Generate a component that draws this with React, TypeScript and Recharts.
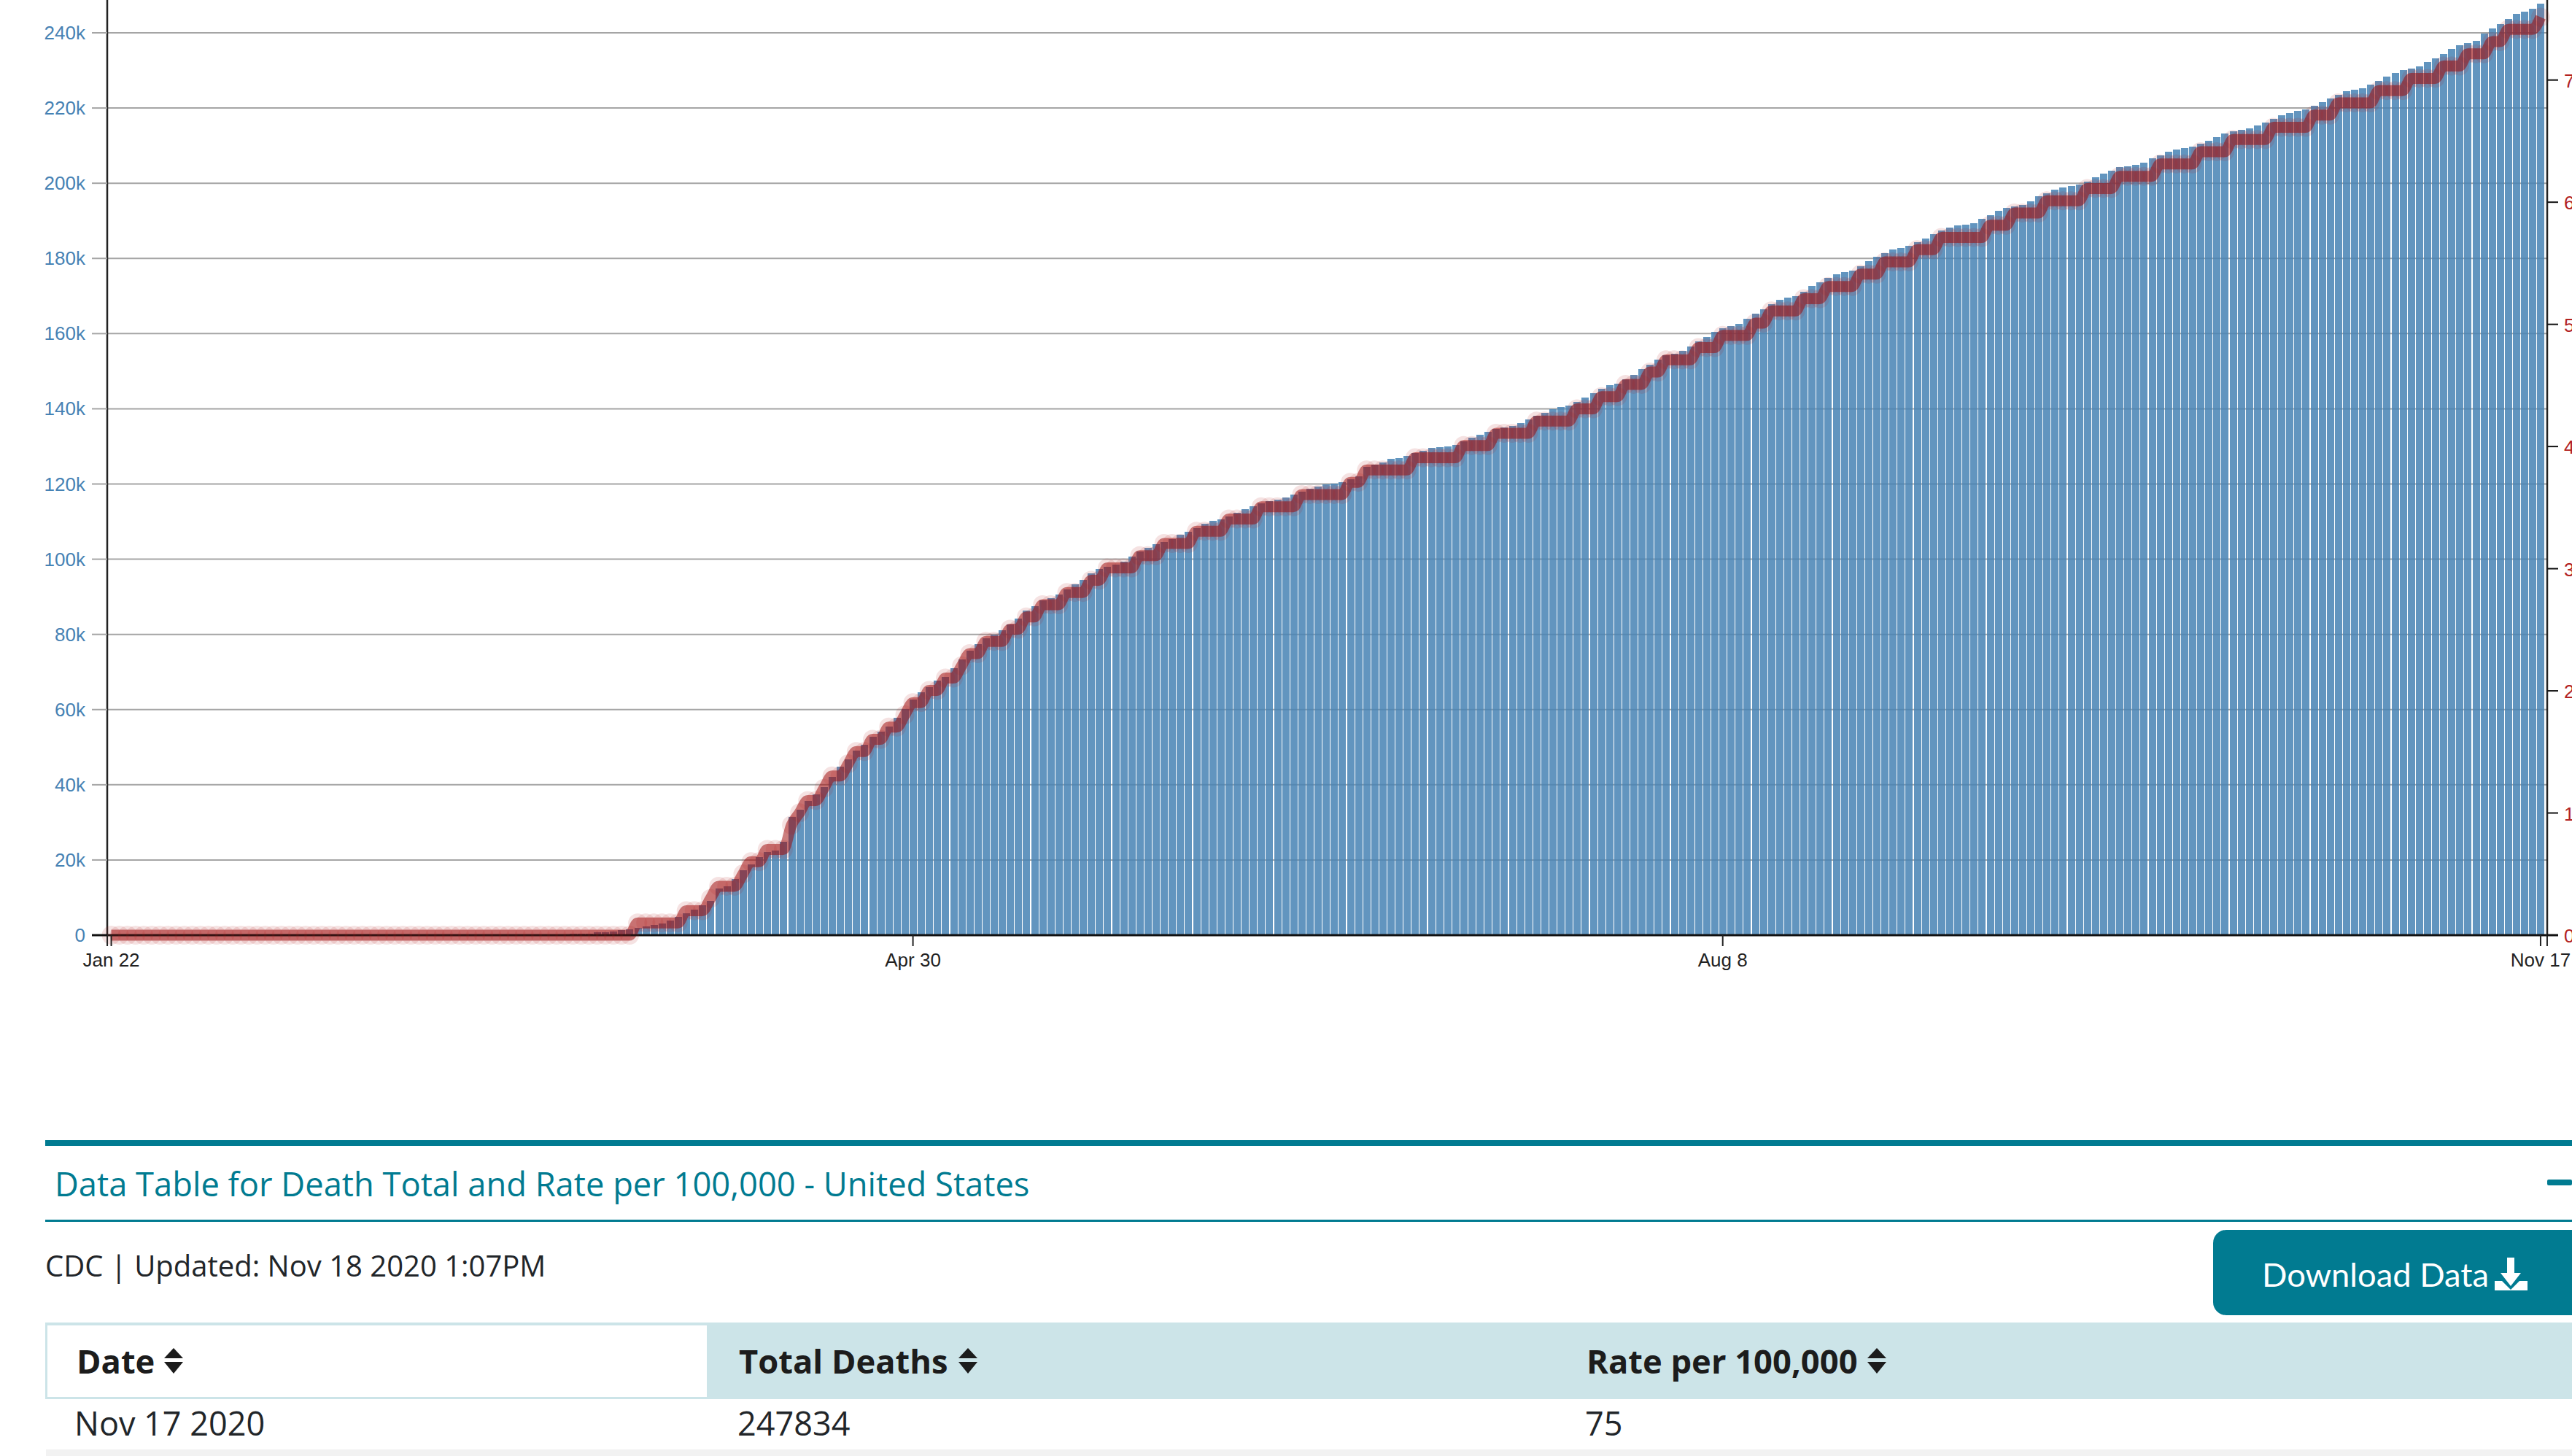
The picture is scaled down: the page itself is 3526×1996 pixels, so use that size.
import React from "react";
import { ComposedChart, Bar, Line, XAxis, YAxis, CartesianGrid } from "recharts";

const monthNames = ["Jan", "Feb", "Mar", "Apr", "May", "Jun", "Jul", "Aug", "Sep", "Oct", "Nov"];
const monthDays = [31, 29, 31, 30, 31, 30, 31, 31, 30, 31, 30];
const categories: string[] = [];
monthNames.forEach((m, mi) => {
  for (let d = 1; d <= monthDays[mi]; d++) {
    if ((mi === 0 && d < 22) || (mi === 10 && d > 17)) continue;
    categories.push(`${m} ${d}`);
  }
});

const totalDeaths = [
  0,0,0,0,0,0,0,0,0,0,0,0,0,0,0,0,0,0,0,0,
  0,0,0,0,0,0,0,0,0,0,0,0,0,0,0,0,0,0,0,1,
  2,6,7,11,12,14,17,21,26,31,38,41,49,57,68,150,220,300,380,460,
  776,800,970,1358,1552,1940,2328,2716,3104,3880,4850,5820,6790,7954,9118,12416,12998,14938,17266,18818,
  20758,22116,22504,24832,31428,33368,35696,37442,39382,42098,44814,46754,49082,50634,52768,54126,55484,57812,60140,62662,
  64602,65960,67706,68676,71004,73332,75660,77406,78958,79928,81092,82644,84196,86330,87494,89046,89628,90598,91956,93314,
  94478,96224,97388,97970,98552,99328,100686,102044,103014,103984,104566,105342,106506,107282,108252,109416,110192,110580,111356,112326,
  113296,114072,114848,115430,115818,116400,117176,117952,118728,119310,119892,120086,120474,121250,122026,124548,125130,125712,126682,126876,
  127458,128234,128816,129592,129786,129980,130368,131338,132308,133084,133860,134636,135024,135412,136188,137158,138128,138904,139874,140456,
  140844,141814,142978,144142,145306,146276,146664,147828,148992,150544,151708,153066,154230,154618,155394,156558,157916,159080,160438,161408,
  161990,162572,163930,165288,166452,167810,168974,169556,169944,171108,172660,173630,174794,175764,176346,176734,177898,179256,180420,181390,
  182360,182748,183330,184300,185270,186434,187404,188180,188762,188956,189344,190508,191478,192642,193418,193806,194194,195164,196522,197298,
  198268,198850,199238,199626,200402,201566,202536,203312,204282,204476,204864,205446,206610,207386,208356,208938,209326,209714,210490,211266,
  212236,213206,213788,214176,214564,215340,216116,217086,218056,218638,219220,219608,220578,221548,222518,223488,224458,224846,225234,226204,
  227174,228338,229308,230084,230472,231054,232218,233188,234352,235710,236680,237262,237844,239784,241142,242306,243664,245022,245604,246380,
  247834,
];

const ratePer100k = [
  0,0,0,0,0,0,0,0,0,0,0,0,0,0,0,0,0,0,0,0,
  0,0,0,0,0,0,0,0,0,0,0,0,0,0,0,0,0,0,0,0,
  0,0,0,0,0,0,0,0,0,0,0,0,0,0,0,0,0,0,0,0,
  0,0,0,0,0,1,1,1,1,1,1,2,2,2,3,4,4,4,5,6,
  6,7,7,7,9,10,11,11,12,13,13,14,15,15,16,16,17,17,18,19,
  19,20,20,21,21,22,23,23,24,24,24,25,25,26,26,27,27,27,28,28,
  28,29,29,30,30,30,30,31,31,31,32,32,32,32,33,33,33,33,34,34,
  34,34,35,35,35,35,35,36,36,36,36,36,36,37,37,38,38,38,38,38,
  38,39,39,39,39,39,39,40,40,40,40,41,41,41,41,41,42,42,42,42,
  42,43,43,43,44,44,44,45,45,45,46,46,47,47,47,47,48,48,48,49,
  49,49,49,50,50,51,51,51,51,52,52,52,53,53,53,53,54,54,54,55,
  55,55,55,56,56,56,57,57,57,57,57,57,58,58,58,59,59,59,59,60,
  60,60,60,60,61,61,61,61,62,62,62,62,62,63,63,63,63,63,64,64,
  64,64,65,65,65,65,65,66,66,66,66,66,67,67,67,68,68,68,68,68,
  69,69,69,69,70,70,70,70,71,71,71,72,72,72,73,73,74,74,74,74,
  75,
];

const xTickLabels = ["Jan 22", "Apr 30", "Aug 8", "Nov 17"];
const deathTicks = [0, 20000, 40000, 60000, 80000, 100000, 120000, 140000, 160000, 180000, 200000, 220000, 240000];
const rateTicks = [0, 10, 20, 30, 40, 50, 60, 70];

const tableHeaders = ["Date", "Total Deaths", "Rate per 100,000"];
const tableRow = ["Nov 17 2020", "247834", "75"];

const rows = categories.map((date, i) => ({ date, deaths: totalDeaths[i], rate: ratePer100k[i] }));

const TEAL = "#017b91";
const HELV = "'Liberation Sans', Arial, sans-serif";
const OPEN = "'Open Sans', sans-serif";

const AXIS_GAP = 8;

const XTick = (p: any) => {
  const { x, y, payload } = p;
  const v = payload.value;
  const y0 = y - AXIS_GAP;
  return (
    <g>
      <line x1={x} x2={x} y1={y0} y2={y0 + 15} stroke="#222" strokeWidth={2} />
      {v === "Jan 22" && <line x1={x - 5.5} x2={x - 5.5} y1={y0} y2={y0 + 15} stroke="#222" strokeWidth={2} />}
      {v === "Nov 17" && <line x1={x + 9} x2={x + 9} y1={y0} y2={y0 + 15} stroke="#222" strokeWidth={2} />}
      <text x={x} y={y0 + 43} textAnchor="middle" fontFamily={HELV} fontSize={26} fill="#222">{v}</text>
    </g>
  );
};

const LeftTick = (p: any) => {
  const { x, y, payload } = p;
  const v = payload.value;
  const zero = v === 0;
  const x0 = x + AXIS_GAP;
  return (
    <g>
      <line x1={x0 - 21} x2={x0} y1={y} y2={y} stroke={zero ? "#111" : "#a5a5a5"} strokeWidth={zero ? 3 : 2} />
      <text x={x0 - 30} y={y + 9} textAnchor="end" fontFamily={HELV} fontSize={26} fill="#4682b4">
        {zero ? "0" : `${v / 1000}k`}
      </text>
    </g>
  );
};

const RightTick = (p: any) => {
  const { x, y, payload } = p;
  const x0 = x - AXIS_GAP;
  const yt = y + payload.value * 0.033;
  return (
    <g>
      <line x1={x0} x2={x0 + 15} y1={yt} y2={yt} stroke="#111" strokeWidth={payload.value === 0 ? 3 : 2} />
      <text x={x0 + 23} y={yt + 10} textAnchor="start" fontFamily={HELV} fontSize={26} fill="#b22222">{payload.value}</text>
    </g>
  );
};

const Sort = ({ x }: { x: number }) => (
  <g fill="#1c1c1c">
    <path d={`M${x + 13} 1848 L${x + 26} 1862 L${x} 1862 Z`} />
    <path d={`M${x} 1867 L${x + 26} 1867 L${x + 13} 1883 Z`} />
  </g>
);

export default function App() {
  return (
    <div style={{ position: "absolute", left: 0, top: 0, width: 3526, height: 1996, overflow: "hidden", background: "#fff" }}>
      <div style={{ position: "absolute", left: 0, top: 0 }}>
        <ComposedChart width={3526} height={1360} data={rows} margin={{ top: 0, right: 0, bottom: 0, left: 0 }}>
          <CartesianGrid yAxisId="deaths" vertical={false} stroke="#a5a5a5" strokeWidth={2} syncWithTicks />
          <XAxis
            dataKey="date"
            ticks={xTickLabels}
            interval={0}
            height={78}
            padding={{ left: 0, right: 3.5 }}
            axisLine={{ stroke: "#111", strokeWidth: 3 }}
            tickLine={false}
            tick={XTick}
          />
          <YAxis
            yAxisId="deaths"
            width={147}
            domain={[0, 248734]}
            ticks={deathTicks}
            interval={0}
            axisLine={{ stroke: "#222", strokeWidth: 2.5 }}
            tickLine={false}
            tick={LeftTick}
          />
          <YAxis
            yAxisId="rate"
            orientation="right"
            width={34}
            domain={[0, 76.4]}
            ticks={rateTicks}
            interval={0}
            axisLine={{ stroke: "#222", strokeWidth: 2.5 }}
            tickLine={false}
            tick={RightTick}
          />
          <Bar yAxisId="deaths" dataKey="deaths" barSize={10} fill="#4682b4" fillOpacity={0.85} shapeRendering="crispEdges" isAnimationActive={false} />
          <Line
            yAxisId="rate"
            dataKey="rate"
            type="monotone"
            stroke="rgb(153,0,0)"
            strokeOpacity={0.5}
            strokeWidth={15}
            dot={{ r: 13, fill: "rgb(178,34,34)", fillOpacity: 0.13, stroke: "none" }}
            activeDot={false}
            isAnimationActive={false}
          />
        </ComposedChart>
      </div>
      <svg width={3526} height={1996} style={{ position: "absolute", left: 0, top: 0, pointerEvents: "none" }}>
        <rect x={62} y={1563} width={3464} height={8} fill={TEAL} />
        <rect x={62} y={1672} width={3464} height={3} fill={TEAL} />
        <text x={75} y={1640} fontFamily={OPEN} fontSize={45.3} fill={TEAL}>Data Table for Death Total and Rate per 100,000 - United States</text>
        <rect x={3492} y={1617} width={34} height={8} rx={2} fill={TEAL} />
        <text x={62} y={1750} fontFamily={OPEN} fontSize={40} fill="#212529">CDC | Updated: Nov 18 2020 1:07PM</text>

        <rect x={3034} y={1686} width={520} height={117} rx={18} fill={TEAL} />
        <text x={3101} y={1764} fontFamily="Lato, sans-serif" fontSize={45.3} fill="#fff">Download Data</text>
        <g fill="#fff">
          <path d="M3437 1724 h10 v21 h9 l-14 18 l-14 -18 h9 Z" />
          <path d="M3420 1756 h10 l12 12 l12 -12 h11 v13 h-45 Z" />
        </g>

        <rect x={62} y={1813} width={3464} height={105} fill="#cce4e8" />
        <rect x={65} y={1817} width={904} height={98} fill="#fff" />
        <text x={105} y={1883} fontFamily={OPEN} fontWeight={700} fontSize={45.3} fill="#1c1c1c">{tableHeaders[0]}</text>
        <Sort x={225} />
        <text x={1013} y={1883} fontFamily={OPEN} fontWeight={700} fontSize={45.3} fill="#1c1c1c">{tableHeaders[1]}</text>
        <Sort x={1314} />
        <text x={2175} y={1883} fontFamily={OPEN} fontWeight={700} fontSize={45.3} fill="#1c1c1c">{tableHeaders[2]}</text>
        <Sort x={2560} />
        <text x={102} y={1968} fontFamily={OPEN} fontSize={45} fill="#212529">{tableRow[0]}</text>
        <text x={1011} y={1968} fontFamily={OPEN} fontSize={45} fill="#212529">{tableRow[1]}</text>
        <text x={2173} y={1968} fontFamily={OPEN} fontSize={45} fill="#212529">{tableRow[2]}</text>
        <rect x={63} y={1987} width={3463} height={9} fill="#f2f2f2" />
      </svg>
    </div>
  );
}
